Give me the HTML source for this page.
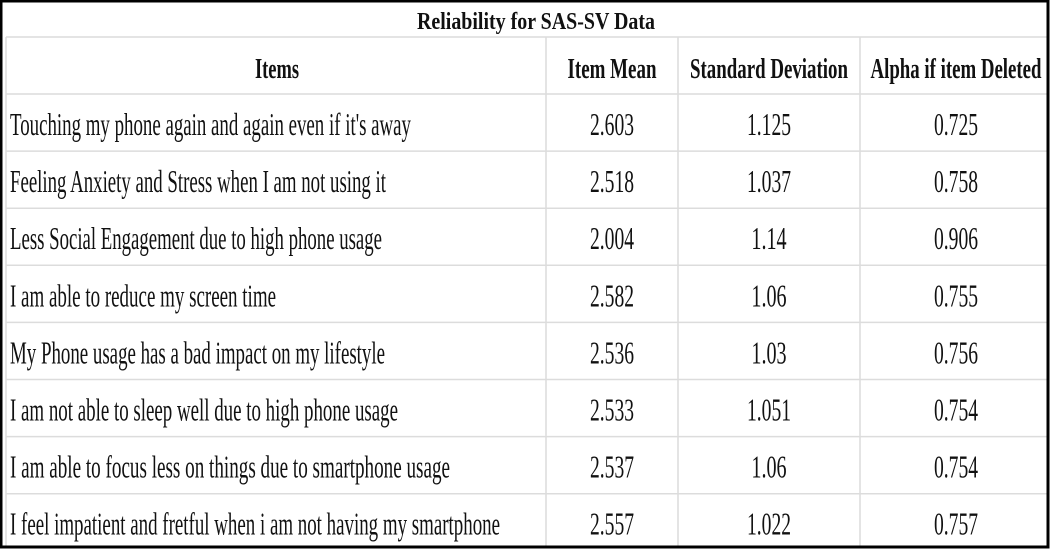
<!DOCTYPE html>
<html><head><meta charset="utf-8"><style>
html,body{margin:0;padding:0;background:#fff;}
svg{display:block;font-family:"Liberation Serif",serif;}
</style></head><body>
<svg width="1051" height="549" viewBox="0 0 1051 549">
<rect x="0" y="0" width="1051" height="549" fill="#fff"/>
<g id="grid" stroke="#dcdcdc" stroke-width="1.5"></g>
<g id="txt" fill="#111"></g>
<rect x="1" y="1" width="1047" height="546" fill="none" stroke="#000" stroke-width="3"/>
</svg>
<script>
const items=["Touching my phone again and again even if it's away","Feeling Anxiety and Stress when I am not using it","Less Social Engagement due to high phone usage","I am able to reduce my screen time","My Phone usage has a bad impact on my lifestyle","I am not able to sleep well due to high phone usage"," I am able to focus less on things due to smartphone usage","I feel impatient and fretful when i am not having my smartphone"];
const means=["2.603","2.518","2.004","2.582","2.536","2.533","2.537","2.557"];
const sds=["1.125","1.037","1.14","1.06","1.03","1.051","1.06","1.022"];
const alphas=["0.725","0.758","0.906","0.755","0.756","0.754","0.754","0.757"];
const itemW=[401,376,372,266,375,388,440,490];
const NS="http://www.w3.org/2000/svg";
const grid=document.getElementById('grid'),txt=document.getElementById('txt');
function line(x1,y1,x2,y2){const l=document.createElementNS(NS,'line');l.setAttribute('x1',x1);l.setAttribute('y1',y1);l.setAttribute('x2',x2);l.setAttribute('y2',y2);


grid.appendChild(l);}
function text(s,x,y,size,bold,anchor,w,name){const t=document.createElementNS(NS,'text');t.textContent=s;t.setAttribute('x',x);t.setAttribute('y',y);t.setAttribute('font-size',size);if(bold)t.setAttribute('font-weight','bold');t.setAttribute('text-anchor',anchor);if(w){t.setAttribute('textLength',w);t.setAttribute('lengthAdjust','spacingAndGlyphs');}t.setAttribute('xml:space','preserve');


txt.appendChild(t);}
const rowTop=94,rowH=57.1;
line(6,37,1048,37);
for(let i=0;i<=items.length;i++){line(6,rowTop+i*rowH,1048,rowTop+i*rowH);}
line(6,37,6,547);
[546,678,860].forEach(x=>line(x,37,x,547));
text("Reliability for SAS-SV Data",536,29,24,true,'middle',238,'table-title');
text("Items",277,78,29,true,'middle',44,'header-items');
text("Item Mean",612,78,29,true,'middle',89,'header-item-mean');
text("Standard Deviation",769,78,29,true,'middle',158,'header-standard-deviation');
text("Alpha if item Deleted",956,78,29,true,'middle',171,'header-alpha-if-deleted');
items.forEach((s,i)=>{const y=rowTop+i*rowH+41;
text(s,10,y,32,false,'start',itemW[i],'item-label');
text(means[i],612,y,32,false,'middle',44,'item-mean-value');
text(sds[i],769,y,32,false,'middle',sds[i].length*8.8,'standard-deviation-value');
text(alphas[i],956,y,32,false,'middle',44,'alpha-value');});
</script>
</body></html>
